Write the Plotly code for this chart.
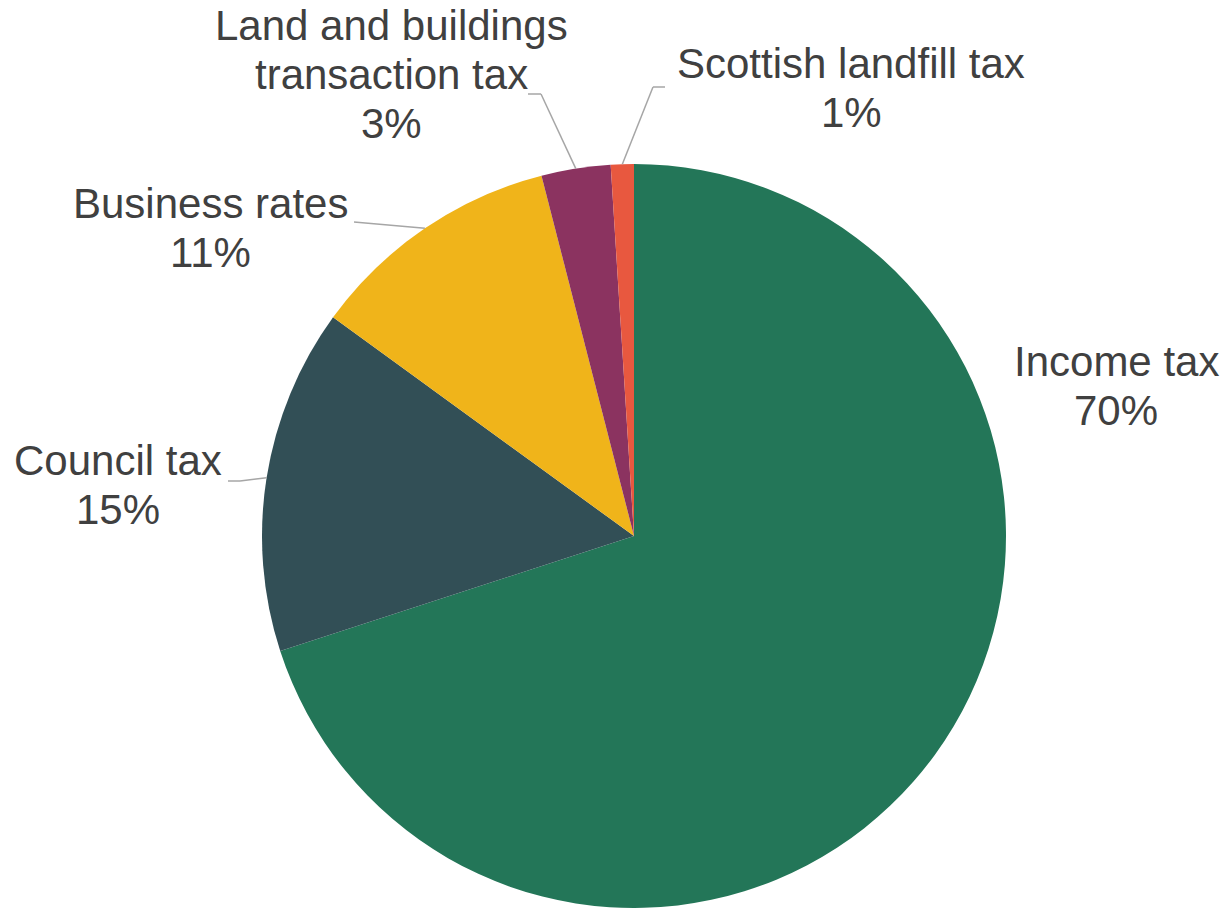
import math
import plotly.graph_objects as go

# Scottish devolved tax revenue, share by tax
labels = ["Income tax", "Council tax", "Business rates",
          "Land and buildings transaction tax", "Scottish landfill tax"]
values = [70, 15, 11, 3, 1]
colors = ["#237658", "#324F56", "#F0B41A", "#8B3360", "#E8583F"]

# Label layout (pixel positions): text centre x, first baseline y, wrapped lines,
# and the elbow points of the leader line (label end, bend)
W, H = 1224, 908
FONT = 42
LINE_GAP = 49
label_layout = {
    "Income tax": dict(cx=1116, base=376, lines=["Income tax"], leader=None),
    "Council tax": dict(cx=118, base=475, lines=["Council tax"],
                        leader=[(228, 481), (240, 481)]),
    "Business rates": dict(cx=210, base=218, lines=["Business rates"],
                           leader=[(354, 222)]),
    "Land and buildings transaction tax": dict(
        cx=392, base=40, lines=["Land and buildings", "transaction tax"],
        leader=[(528, 94), (541, 94)]),
    "Scottish landfill tax": dict(cx=851, base=78, lines=["Scottish landfill tax"],
                                  leader=[(665, 87), (653, 87)]),
}

# Pie placement in pixels
dom_x = (261, 1007)
dom_y_top = 164
cx_px = (dom_x[0] + dom_x[1]) / 2
r_px = (H - dom_y_top) / 2
cy_px = H - r_px


def px(x):
    return x / W


def py(y):
    return 1 - y / H


fig = go.Figure(go.Pie(
    labels=labels,
    values=values,
    marker=dict(colors=colors, line=dict(width=0)),
    sort=False,
    direction="clockwise",
    rotation=0,
    textinfo="none",
    hoverinfo="label+percent",
    showlegend=False,
    domain=dict(x=[px(dom_x[0]), px(dom_x[1])], y=[0, py(dom_y_top)]),
))

total = sum(values)
annotations = []
shapes = []
cum = 0.0
for lab, val in zip(labels, values):
    mid_angle = (cum + val / 2) / total * 2 * math.pi
    cum += val
    lay = label_layout[lab]
    pct = f"{val / total * 100:.0f}%"
    rows = lay["lines"] + [pct]
    for i, row in enumerate(rows):
        base = lay["base"] + i * LINE_GAP
        annotations.append(dict(
            x=px(lay["cx"]), y=py(base - 0.347 * FONT),
            xref="paper", yref="paper", xanchor="center", yanchor="middle",
            text=row, showarrow=False,
            font=dict(family="Liberation Sans, Arial, sans-serif",
                      size=FONT, color="#404040"),
        ))
    if lay["leader"]:
        edge = (cx_px + r_px * math.sin(mid_angle),
                cy_px - r_px * math.cos(mid_angle))
        pts = lay["leader"] + [edge]
        for (x0, y0), (x1, y1) in zip(pts[:-1], pts[1:]):
            shapes.append(dict(
                type="line", xref="paper", yref="paper",
                x0=px(x0), y0=py(y0), x1=px(x1), y1=py(y1),
                line=dict(color="#A6A6A6", width=1.5),
            ))

fig.update_layout(
    width=W, height=H,
    margin=dict(l=0, r=0, t=0, b=0),
    paper_bgcolor="white",
    plot_bgcolor="white",
    annotations=annotations,
    shapes=shapes,
)

fig.write_html("out.html")
